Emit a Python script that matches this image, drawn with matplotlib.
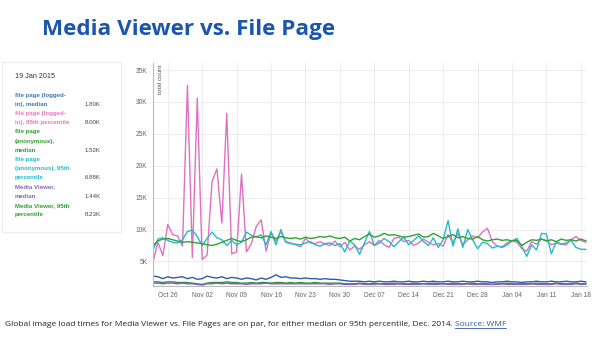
import matplotlib
matplotlib.use("Agg")
import matplotlib.pyplot as plt
import matplotlib.dates as mdates
from matplotlib.patches import Rectangle
import pandas as pd

# daily values, 23 Oct 2014 .. 19 Jan 2015 (in thousands)
dates = pd.date_range("2014-10-23", "2015-01-19", freq="D")

logged_in_median = [
    2.7, 2.6, 2.3, 2.6, 2.4, 2.5, 2.6, 2.3, 2.5, 2.2, 2.3, 2.7, 2.5, 2.4,
    2.6, 2.3, 2.5, 2.4, 2.2, 2.4, 2.3, 2.1, 2.4, 2.2, 2.5, 2.9, 2.5, 2.6,
    2.4, 2.4, 2.3, 2.4, 2.3, 2.3, 2.2, 2.3, 2.2, 2.2, 2.1, 2.0, 1.9, 1.9,
    1.9, 1.8, 1.9, 1.8, 1.9, 1.8, 1.8, 1.9, 1.8, 1.8, 1.9, 1.8, 1.8, 1.9,
    1.8, 1.9, 1.8, 1.8, 1.9, 1.8, 1.8, 1.9, 1.8, 1.8, 1.9, 1.8, 1.8, 1.7,
    1.8, 1.8, 1.9, 1.8, 1.8, 1.7, 1.8, 1.8, 1.9, 1.8, 1.8, 1.9, 1.8, 1.8,
    1.9, 1.8, 1.8, 1.9, 1.80,
]
logged_in_p95 = [
    4.9, 8.0, 5.9, 10.8, 9.2, 9.0, 7.4, 32.6, 5.6, 30.6, 5.3, 6.0, 17.5, 19.5,
    11.0, 28.2, 6.2, 6.5, 18.7, 6.5, 7.8, 10.5, 11.5, 6.6, 9.5, 8.2, 9.7, 8.1,
    7.9, 7.6, 7.3, 8.6, 7.9, 7.8, 8.1, 7.7, 7.5, 8.2, 7.3, 8.0, 6.8, 7.4,
    6.9, 7.6, 8.1, 7.5, 8.3, 7.6, 7.2, 8.6, 8.8, 8.1, 8.3, 7.5, 7.9, 8.5,
    8.0, 7.6, 7.8, 7.4, 9.2, 7.9, 9.4, 7.6, 8.4, 9.0, 8.7, 9.6, 10.2, 8.1,
    7.4, 7.3, 7.9, 8.3, 8.0, 7.0, 6.6, 8.1, 7.7, 8.5, 8.3, 7.6, 7.9, 7.7,
    7.6, 8.4, 8.9, 8.3, 8.00,
]
anon_median = [
    1.8, 1.8, 1.7, 1.8, 1.8, 1.7, 1.7, 1.7, 1.6, 1.5, 1.4, 1.6, 1.7, 1.7,
    1.7, 1.8, 1.7, 1.7, 1.6, 1.6, 1.7, 1.6, 1.7, 1.7, 1.6, 1.7, 1.7, 1.6,
    1.7, 1.6, 1.7, 1.6, 1.6, 1.7, 1.6, 1.6, 1.6, 1.6, 1.6, 1.5, 1.5, 1.5,
    1.6, 1.5, 1.5, 1.6, 1.5, 1.5, 1.5, 1.6, 1.5, 1.5, 1.5, 1.6, 1.5, 1.5,
    1.5, 1.6, 1.5, 1.5, 1.5, 1.6, 1.5, 1.5, 1.5, 1.6, 1.5, 1.5, 1.5, 1.4,
    1.5, 1.5, 1.6, 1.5, 1.5, 1.5, 1.5, 1.5, 1.6, 1.5, 1.5, 1.5, 1.6, 1.5,
    1.5, 1.5, 1.6, 1.5, 1.52,
]
anon_p95 = [
    6.8, 8.5, 8.7, 8.3, 8.0, 7.9, 8.4, 9.7, 9.9, 8.9, 7.5, 8.6, 9.6, 8.7,
    8.4, 7.5, 8.3, 7.6, 8.0, 9.6, 9.1, 8.8, 9.2, 7.6, 9.7, 7.6, 10.0, 8.0,
    7.8, 7.7, 7.6, 7.9, 8.1, 7.6, 7.4, 7.8, 7.9, 7.5, 7.8, 6.5, 8.2, 7.6,
    6.1, 7.9, 9.7, 7.5, 7.9, 8.6, 8.1, 7.3, 8.1, 8.8, 7.6, 8.3, 9.0, 8.1,
    7.5, 8.7, 7.2, 8.4, 11.4, 7.4, 10.1, 7.2, 10.0, 8.4, 7.0, 8.0, 7.8, 7.1,
    7.4, 7.2, 7.6, 8.2, 8.6, 7.3, 5.8, 7.6, 6.8, 9.4, 9.3, 6.2, 8.1, 7.7,
    7.9, 8.3, 7.2, 6.9, 6.88,
]
mv_median = [
    1.6, 1.6, 1.5, 1.6, 1.6, 1.5, 1.6, 1.5, 1.5, 1.4, 1.3, 1.5, 1.5, 1.6,
    1.5, 1.6, 1.5, 1.5, 1.5, 1.4, 1.5, 1.5, 1.5, 1.6, 1.5, 1.5, 1.5, 1.5,
    1.5, 1.5, 1.5, 1.5, 1.5, 1.5, 1.5, 1.5, 1.4, 1.5, 1.5, 1.4, 1.4, 1.4,
    1.5, 1.4, 1.4, 1.4, 1.5, 1.4, 1.4, 1.4, 1.5, 1.4, 1.4, 1.4, 1.4, 1.5,
    1.4, 1.4, 1.4, 1.5, 1.4, 1.4, 1.4, 1.4, 1.5, 1.4, 1.4, 1.4, 1.4, 1.4,
    1.4, 1.5, 1.4, 1.4, 1.4, 1.4, 1.4, 1.5, 1.4, 1.4, 1.4, 1.4, 1.5, 1.4,
    1.4, 1.4, 1.5, 1.4, 1.44,
]
mv_p95 = [
    7.5, 8.2, 8.5, 8.6, 8.4, 8.2, 8.0, 8.1, 8.0, 7.9, 7.8, 7.6, 7.5, 7.7,
    8.0, 8.3, 8.6, 8.3, 8.1, 8.4, 8.8, 8.9, 8.7, 9.0, 8.8, 8.6, 8.9, 8.7,
    8.6, 8.7, 8.5, 8.8, 8.6, 8.7, 8.9, 8.8, 9.0, 8.7, 8.6, 8.8, 8.2, 8.6,
    8.4, 8.9, 9.3, 8.8, 9.0, 9.4, 9.1, 9.2, 9.0, 8.8, 8.9, 9.1, 9.3, 8.8,
    8.9, 9.4, 9.0, 8.6, 8.9, 9.2, 8.7, 8.9, 8.6, 8.5, 8.9, 8.4, 8.2, 8.4,
    8.5, 8.3, 8.4, 8.2, 8.3, 7.5, 8.0, 8.4, 8.3, 8.5, 8.2, 8.4, 8.1, 8.5,
    8.3, 8.4, 8.2, 8.5, 8.23,
]

series_labels = [
    ["file page (logged-", "in), median"],
    ["file page (logged-", "in), 95th percentile"],
    ["file page", "(anonymous),", "median"],
    ["file page", "(anonymous), 95th", "percentile"],
    ["Media Viewer,", "median"],
    ["Media Viewer, 95th", "percentile"],
]
series_data = [logged_in_median, logged_in_p95, anon_median, anon_p95, mv_median, mv_p95]
line_colors = ["#2b5fa6", "#e070c0", "#3f8a44", "#1fbcc8", "#7a62b0", "#33a033"]
text_colors = ["#3a78b8", "#e377c2", "#2ca02c", "#17becf", "#8467b5", "#2ca02c"]

tick_dates = pd.date_range("2014-10-26", "2015-01-18", freq="7D")
y_ticks = [5000, 10000, 15000, 20000, 25000, 30000, 35000]

plt.rcParams["font.family"] = ["Liberation Sans", "DejaVu Sans"]

fig = plt.figure(figsize=(6, 3.38), dpi=100)
fig.patch.set_facecolor("white")

# slide title and caption
fig.text(0.07, 0.897, "Media Viewer vs. File Page", fontsize=16.2, fontweight="bold",
         color="#1a56b0", family=["Open Sans", "DejaVu Sans"],
         ha="left", va="baseline")
cap = fig.text(0.008, 0.04, "Global image load times for Media Viewer vs. File Pages are on par, "
               "for either median or 95th percentile, Dec. 2014. ",
               fontsize=6.0, color="#222222", family=["Open Sans", "DejaVu Sans"],
               ha="left", va="center")
fig.canvas.draw()
bb = cap.get_window_extent()
src = fig.text(bb.x1 / fig.bbox.width, 0.04, "Source: WMF", fontsize=6.0, color="#2d5aa5",
               family=["Open Sans", "DejaVu Sans"], ha="left", va="center")
fig.canvas.draw()
sb = src.get_window_extent()
fig.lines.append(plt.Line2D([sb.x0 / fig.bbox.width, sb.x1 / fig.bbox.width],
                            [(sb.y0 - 0.5) / fig.bbox.height] * 2,
                            transform=fig.transFigure, color="#2d5aa5", lw=0.6))

# legend panel on the left
fig.patches.append(Rectangle((0.004, 1 - 232 / 338), 0.198, 170 / 338,
                             transform=fig.transFigure, facecolor="white",
                             edgecolor="#ececec", lw=0.8))
fig.text(15 / 600, 1 - 76 / 338, "19 Jan 2015", fontsize=5.2, color="#333333",
         ha="left", va="center")
row_y = 95
line_gap = 9.2
for lines, color, values in zip(series_labels, text_colors, series_data):
    for i, part in enumerate(lines):
        fig.text(15 / 600, 1 - (row_y + i * line_gap) / 338, part, fontsize=4.4,
                 fontweight="bold", color=color, ha="left", va="center")
    last_y = row_y + (len(lines) - 1) * line_gap
    fig.text(101 / 600, 1 - last_y / 338, f"{values[-1]:.2f}K", fontsize=4.4,
             color="#444444", ha="right", va="center")
    row_y = last_y + line_gap

# main chart
ax = fig.add_axes([153 / 600, 1 - 286 / 338, 434 / 600, 223 / 338])
for values, color in zip(series_data, line_colors):
    ax.plot(dates, [v * 1000 for v in values], color=color, lw=1.0, solid_joinstyle="round")

ax.set_xlim(dates[0], dates[-1] + pd.Timedelta(hours=6))
ax.set_ylim(1150, 36100)
ax.set_xticks(tick_dates)
ax.xaxis.set_major_formatter(mdates.DateFormatter("%b %d"))
ax.set_yticks(y_ticks)
ax.set_yticklabels([f"{t // 1000}K" for t in y_ticks])
ax.tick_params(axis="both", length=0, labelsize=4.8, labelcolor="#666666")
ax.tick_params(axis="x", pad=4)
ax.tick_params(axis="y", pad=4)
ax.grid(True, color="#ececec", lw=0.7)
ax.set_axisbelow(True)
for side in ("top", "right"):
    ax.spines[side].set_visible(False)
for side in ("left", "bottom"):
    ax.spines[side].set_color("#bbbbbb")
    ax.spines[side].set_linewidth(0.8)
ax.text(0.012, 0.995, "total count", transform=ax.transAxes, rotation=90,
        fontsize=4.6, color="#555555", ha="left", va="top")

fig.savefig("out.png", dpi=100)
